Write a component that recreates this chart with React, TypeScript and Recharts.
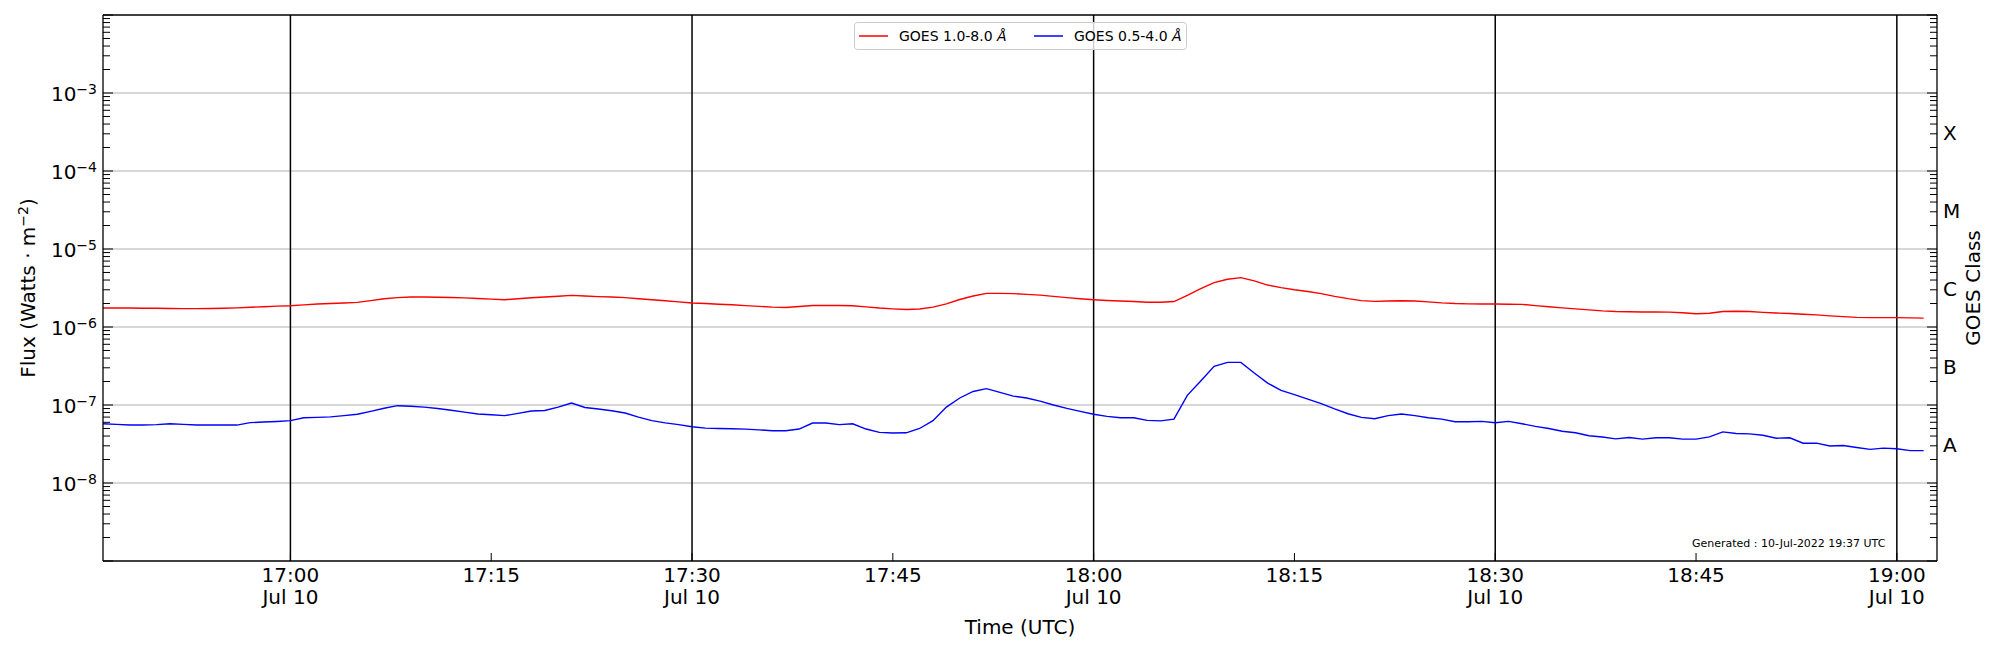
import React from 'react'
import { LineChart, Line, XAxis, YAxis, ReferenceLine, Legend } from 'recharts'

const FONT = '"DejaVu Sans", sans-serif'

// plot box in page pixels
const PLOT_TOP = 15
const PLOT_BOTTOM = 561
const PLOT_LEFT = 103
const PLOT_RIGHT = 1937

// one reading per minute, first one at 16:46 UTC
const START_MINUTE = 16 * 60 + 46

// GOES 1.0-8.0 Å channel (W m^-2)
const xrsLong = [
  1.75e-6, 1.75e-6, 1.75e-6, 1.74e-6, 1.74e-6, 1.73e-6, 1.72e-6, 1.72e-6, 1.73e-6, 1.74e-6,
  1.76e-6, 1.79e-6, 1.82e-6, 1.85e-6, 1.87e-6, 1.92e-6, 1.97e-6, 2.0e-6, 2.03e-6, 2.07e-6,
  2.18e-6, 2.3e-6, 2.38e-6, 2.42e-6, 2.42e-6, 2.41e-6, 2.39e-6, 2.36e-6, 2.32e-6, 2.28e-6,
  2.24e-6, 2.3e-6, 2.37e-6, 2.42e-6, 2.48e-6, 2.54e-6, 2.5e-6, 2.45e-6, 2.42e-6, 2.38e-6,
  2.3e-6, 2.24e-6, 2.17e-6, 2.1e-6, 2.03e-6, 2.0e-6, 1.96e-6, 1.93e-6, 1.88e-6, 1.84e-6,
  1.8e-6, 1.78e-6, 1.83e-6, 1.89e-6, 1.89e-6, 1.89e-6, 1.87e-6, 1.81e-6, 1.75e-6, 1.71e-6,
  1.68e-6, 1.7e-6, 1.8e-6, 1.98e-6, 2.25e-6, 2.5e-6, 2.7e-6, 2.7e-6, 2.68e-6, 2.62e-6,
  2.56e-6, 2.47e-6, 2.38e-6, 2.3e-6, 2.24e-6, 2.19e-6, 2.15e-6, 2.12e-6, 2.08e-6, 2.08e-6,
  2.12e-6, 2.55e-6, 3.1e-6, 3.7e-6, 4.1e-6, 4.3e-6, 3.9e-6, 3.45e-6, 3.2e-6, 3.0e-6,
  2.85e-6, 2.68e-6, 2.47e-6, 2.31e-6, 2.18e-6, 2.13e-6, 2.15e-6, 2.17e-6, 2.15e-6, 2.1e-6,
  2.04e-6, 2.0e-6, 1.98e-6, 1.97e-6, 1.97e-6, 1.96e-6, 1.95e-6, 1.88e-6, 1.82e-6, 1.76e-6,
  1.71e-6, 1.66e-6, 1.61e-6, 1.58e-6, 1.57e-6, 1.56e-6, 1.555e-6, 1.55e-6, 1.52e-6, 1.48e-6,
  1.5e-6, 1.58e-6, 1.59e-6, 1.58e-6, 1.54e-6, 1.51e-6, 1.49e-6, 1.46e-6, 1.43e-6, 1.39e-6,
  1.36e-6, 1.33e-6, 1.32e-6, 1.32e-6, 1.32e-6, 1.31e-6, 1.3e-6,
]

// GOES 0.5-4.0 Å channel (W m^-2)
const xrsShort = [
  5.75e-8, 5.65e-8, 5.53e-8, 5.55e-8, 5.6e-8, 5.75e-8, 5.65e-8, 5.53e-8, 5.53e-8, 5.53e-8,
  5.53e-8, 5.95e-8, 6.05e-8, 6.15e-8, 6.3e-8, 6.85e-8, 6.95e-8, 7.05e-8, 7.3e-8, 7.6e-8,
  8.3e-8, 9.1e-8, 9.8e-8, 9.65e-8, 9.4e-8, 9.0e-8, 8.55e-8, 8.1e-8, 7.66e-8, 7.5e-8,
  7.3e-8, 7.8e-8, 8.37e-8, 8.5e-8, 9.4e-8, 1.06e-7, 9.3e-8, 8.9e-8, 8.45e-8, 7.9e-8,
  7.0e-8, 6.3e-8, 5.9e-8, 5.6e-8, 5.27e-8, 5.05e-8, 5.0e-8, 4.95e-8, 4.9e-8, 4.8e-8,
  4.68e-8, 4.68e-8, 4.92e-8, 5.87e-8, 5.87e-8, 5.6e-8, 5.75e-8, 4.92e-8, 4.46e-8, 4.37e-8,
  4.4e-8, 5.0e-8, 6.3e-8, 9.4e-8, 1.23e-7, 1.49e-7, 1.62e-7, 1.45e-7, 1.3e-7, 1.23e-7,
  1.12e-7, 1.0e-7, 9.05e-8, 8.3e-8, 7.6e-8, 7.15e-8, 6.87e-8, 6.87e-8, 6.35e-8, 6.25e-8,
  6.6e-8, 1.33e-7, 2.03e-7, 3.13e-7, 3.52e-7, 3.52e-7, 2.57e-7, 1.91e-7, 1.54e-7, 1.36e-7,
  1.19e-7, 1.04e-7, 8.9e-8, 7.73e-8, 6.93e-8, 6.67e-8, 7.3e-8, 7.66e-8, 7.3e-8, 6.87e-8,
  6.6e-8, 6.1e-8, 6.1e-8, 6.17e-8, 5.93e-8, 6.17e-8, 5.75e-8, 5.32e-8, 5.0e-8, 4.6e-8,
  4.41e-8, 4.04e-8, 3.89e-8, 3.68e-8, 3.83e-8, 3.65e-8, 3.8e-8, 3.8e-8, 3.65e-8, 3.65e-8,
  3.9e-8, 4.52e-8, 4.32e-8, 4.26e-8, 4.1e-8, 3.75e-8, 3.8e-8, 3.24e-8, 3.24e-8, 2.98e-8,
  3.02e-8, 2.85e-8, 2.7e-8, 2.8e-8, 2.75e-8, 2.6e-8, 2.6e-8,
]

// minutes of day
const timeTicks = [1020, 1035, 1050, 1065, 1080, 1095, 1110, 1125, 1140]
const dayLines = [1020, 1050, 1080, 1110, 1140]
const dayLabel = 'Jul 10'

const decadeExps = [-9, -8, -7, -6, -5, -4, -3, -2]
const labelledExps = [-8, -7, -6, -5, -4, -3]
const goesClasses = ['A', 'B', 'C', 'M', 'X'] // centred on 10^-7.5 ... 10^-3.5

const data = xrsLong.map((v, i) => ({ t: START_MINUTE + i, long: v, short: xrsShort[i] }))

const logTicks: number[] = []
decadeExps.forEach((e) => {
  for (let m = 1; m <= 9; m++) {
    if (e === -2 && m > 1) break
    logTicks.push(m * Math.pow(10, e))
  }
})
const classTicks = goesClasses.map((_, i) => Math.pow(10, -7.5 + i))
const rightTicks = [...logTicks, ...classTicks].sort((a, b) => a - b)

const clock = (m: number) => `${Math.floor(m / 60)}:${String(m % 60).padStart(2, '0')}`

function LeftTick(props: any) {
  const { x, y, payload } = props
  const lg = Math.log10(payload.value)
  const e = Math.round(lg)
  const major = Math.abs(lg - e) < 1e-6
  return (
    <g>
      <line x1={x} x2={x + (major ? 10 : 7)} y1={y} y2={y} stroke="#000" strokeWidth={1} />
      {major && labelledExps.includes(e) && (
        <text x={x - 6} y={y + 8} textAnchor="end" fontSize={20} fontFamily={FONT} fill="#000">
          10<tspan dy={-7} fontSize={14}>{'\u2212' + Math.abs(e)}</tspan>
        </text>
      )}
    </g>
  )
}

function RightTick(props: any) {
  const { x, y, payload } = props
  const lg = Math.log10(payload.value)
  if (Math.abs(lg - Math.floor(lg) - 0.5) < 1e-6) {
    const idx = Math.round(lg + 7.5)
    return (
      <text x={x + 6} y={y + 8} textAnchor="start" fontSize={20} fontFamily={FONT} fill="#000">
        {goesClasses[idx]}
      </text>
    )
  }
  const major = Math.abs(lg - Math.round(lg)) < 1e-6
  return <line x1={x} x2={x - (major ? 10 : 7)} y1={y} y2={y} stroke="#000" strokeWidth={1} />
}

function TimeTick(props: any) {
  const { x, y, payload } = props
  const m = payload.value
  return (
    <g>
      <line x1={x} x2={x} y1={y} y2={y - 8} stroke="#000" strokeWidth={1} />
      <text x={x} y={y + 21} textAnchor="middle" fontSize={20} fontFamily={FONT} fill="#000">
        {clock(m)}
      </text>
      {m % 30 === 0 && (
        <text x={x} y={y + 43} textAnchor="middle" fontSize={20} fontFamily={FONT} fill="#000">
          {dayLabel}
        </text>
      )}
    </g>
  )
}

const TimeLabel = () => (
  <text x={(PLOT_LEFT + PLOT_RIGHT) / 2} y={634} textAnchor="middle" fontSize={20} fontFamily={FONT} fill="#000">
    Time (UTC)
  </text>
)

const FluxLabel = () => {
  const cx = 35
  const cy = (PLOT_TOP + PLOT_BOTTOM) / 2
  return (
    <text x={cx} y={cy} transform={`rotate(-90 ${cx} ${cy})`} textAnchor="middle" fontSize={20} fontFamily={FONT} fill="#000">
      Flux (Watts · m<tspan dy={-7} fontSize={14}>{'\u22122'}</tspan>
      <tspan dy={7}>)</tspan>
    </text>
  )
}

const ClassLabel = () => {
  const cx = 1980
  const cy = (PLOT_TOP + PLOT_BOTTOM) / 2
  return (
    <text x={cx} y={cy} transform={`rotate(-90 ${cx} ${cy})`} textAnchor="middle" fontSize={20} fontFamily={FONT} fill="#000">
      GOES Class
    </text>
  )
}

const seriesOrder = ['long', 'short']

function LegendBox(props: any) {
  const items = [...(props.payload || [])].sort(
    (a: any, b: any) => seriesOrder.indexOf(a.dataKey) - seriesOrder.indexOf(b.dataKey)
  )
  return (
    <svg width={333} height={28} style={{ display: 'block' }}>
      <rect x={0.5} y={0.5} width={332} height={27} rx={3} fill="#fff" fillOpacity={0.8} stroke="#cccccc" />
      {items.map((p: any, i: number) => {
        const ox = 5 + i * 175
        const name = String(p.value)
        return (
          <g key={name}>
            <line x1={ox} x2={ox + 29} y1={14} y2={14} stroke={p.color} strokeWidth={1.5} />
            <text x={ox + 40} y={19} fontSize={14} fontFamily={FONT} fill="#000">
              {name.replace('Å', '')}<tspan fontStyle="italic">Å</tspan>
            </text>
          </g>
        )
      })}
    </svg>
  )
}

export default function App() {
  return (
    <div style={{ position: 'relative', width: 2000, height: 650, background: '#fff' }}>
      <style>{'body{margin:0}'}</style>
      <LineChart
        width={2000}
        height={650}
        data={data}
        margin={{ top: PLOT_TOP, right: 0, bottom: 0, left: 0 }}
        style={{ fontFamily: FONT }}
      >
        <XAxis
          dataKey="t"
          type="number"
          domain={[1006, 1143]}
          allowDataOverflow
          ticks={timeTicks}
          interval={0}
          tick={(p: any) => <TimeTick {...p} />}
          tickLine={false}
          tickSize={0}
          tickMargin={0}
          height={650 - PLOT_BOTTOM}
          axisLine={{ stroke: '#000', strokeWidth: 1.3 }}
          label={<TimeLabel />}
        />
        <YAxis
          scale="log"
          domain={[1e-9, 1e-2]}
          allowDataOverflow
          ticks={logTicks}
          interval={0}
          tick={(p: any) => <LeftTick {...p} />}
          tickLine={false}
          tickSize={0}
          tickMargin={0}
          width={PLOT_LEFT}
          axisLine={{ stroke: '#000', strokeWidth: 1.3 }}
          label={<FluxLabel />}
        />
        <YAxis
          yAxisId="right"
          orientation="right"
          scale="log"
          domain={[1e-9, 1e-2]}
          allowDataOverflow
          ticks={rightTicks}
          interval={0}
          tick={(p: any) => <RightTick {...p} />}
          tickLine={false}
          tickSize={0}
          tickMargin={0}
          width={2000 - PLOT_RIGHT}
          axisLine={{ stroke: '#000', strokeWidth: 1.3 }}
          label={<ClassLabel />}
        />
        {labelledExps.map((e) => (
          <ReferenceLine key={e} y={Math.pow(10, e)} stroke="#b0b0b0" strokeWidth={1} />
        ))}
        <ReferenceLine y={1e-2} stroke="#000" strokeWidth={1.3} ifOverflow="visible" />
        {dayLines.map((m) => (
          <ReferenceLine key={m} x={m} stroke="#000" strokeWidth={1.5} />
        ))}
        <Legend
          layout="horizontal"
          verticalAlign="middle"
          align="center"
          content={(p: any) => <LegendBox {...p} />}
          wrapperStyle={{ top: 22, left: 854, width: 333, height: 28 }}
        />
        <Line
          type="linear"
          dataKey="long"
          name="GOES 1.0-8.0 Å"
          stroke="#ff0000"
          strokeWidth={1.4}
          dot={false}
          activeDot={false}
          isAnimationActive={false}
        />
        <Line
          type="linear"
          dataKey="short"
          name="GOES 0.5-4.0 Å"
          stroke="#0000ff"
          strokeWidth={1.4}
          dot={false}
          activeDot={false}
          isAnimationActive={false}
        />
      </LineChart>
      <div
        style={{
          position: 'absolute',
          left: 1692,
          top: 538,
          fontFamily: FONT,
          fontSize: 11,
          lineHeight: '11px',
          color: '#000',
          whiteSpace: 'nowrap',
        }}
      >
        Generated : 10-Jul-2022 19:37 UTC
      </div>
    </div>
  )
}
